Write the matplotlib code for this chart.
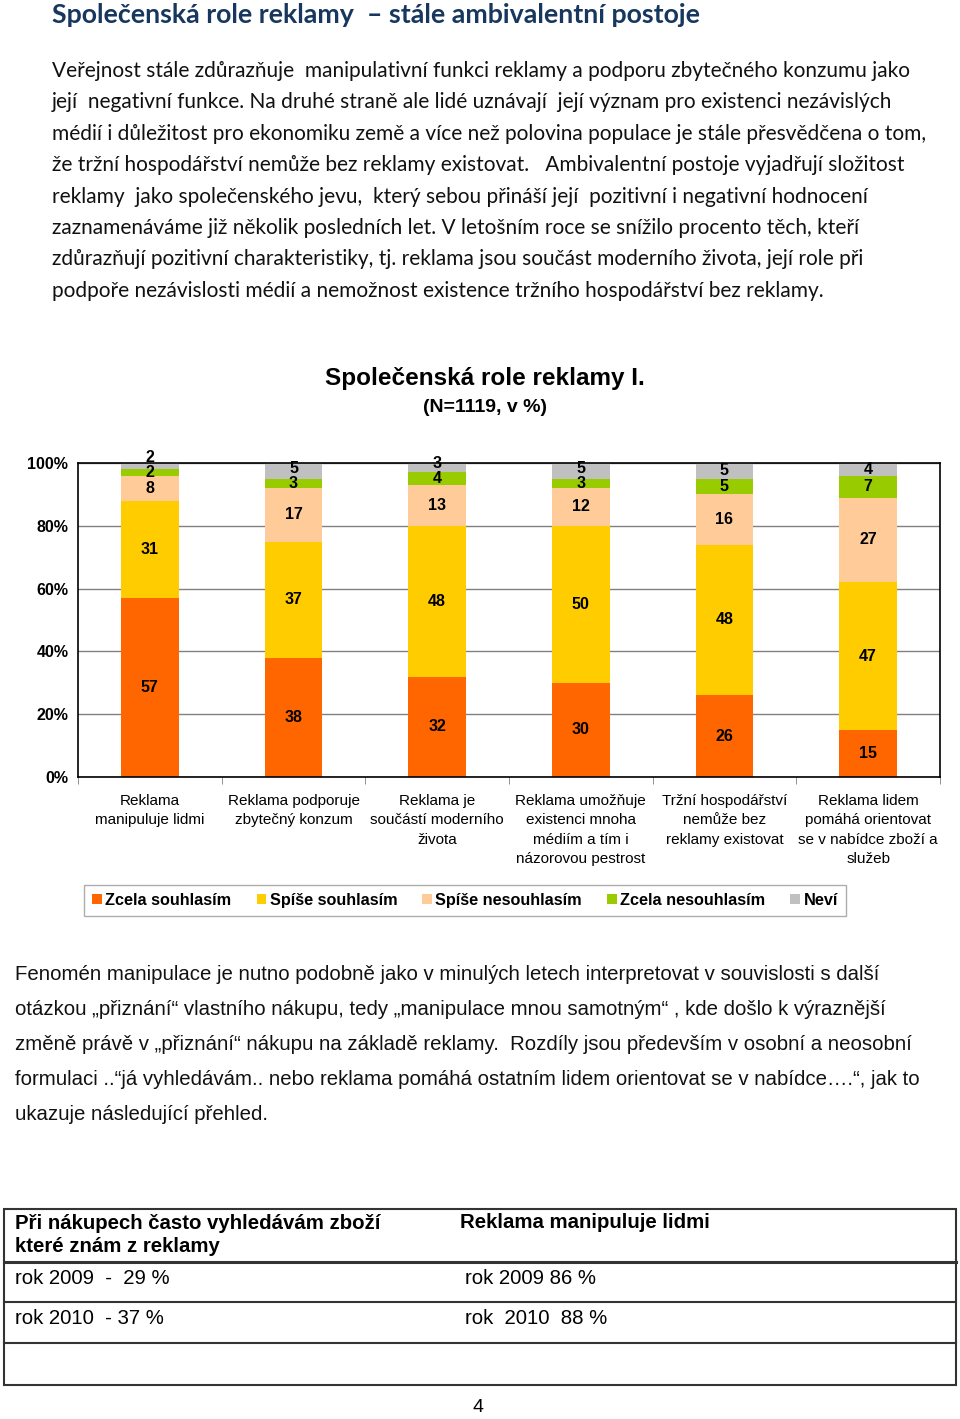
import matplotlib
matplotlib.use("Agg")
import matplotlib.pyplot as plt
import numpy as np
from matplotlib.patches import Rectangle, Patch
from matplotlib.lines import Line2D

# chart data (percent)
categories = [
    "Reklama\nmanipuluje lidmi",
    "Reklama podporuje\nzbytečný konzum",
    "Reklama je\nsoučástí moderního\nživota",
    "Reklama umožňuje\nexistenci mnoha\nmédiím a tím i\nnázorovou pestrost",
    "Tržní hospodářství\nnemůže bez\nreklamy existovat",
    "Reklama lidem\npomáhá orientovat\nse v nabídce zboží a\nslužeb",
]
series_names = ["Zcela souhlasím", "Spíše souhlasím", "Spíše nesouhlasím",
                "Zcela nesouhlasím", "Neví"]
zcela_souhlasim = [57, 38, 32, 30, 26, 15]
spise_souhlasim = [31, 37, 48, 50, 48, 47]
spise_nesouhlasim = [8, 17, 13, 12, 16, 27]
zcela_nesouhlasim = [2, 3, 4, 3, 5, 7]
nevi = [2, 5, 3, 5, 5, 4]
colors = ["#FF6600", "#FFCC00", "#FFCC99", "#99CC00", "#C0C0C0"]

# table data
table_header = ["Při nákupech často vyhledávám zboží\nkteré znám z reklamy",
                "Reklama manipuluje lidmi"]
table_left = ["rok 2009  -  29 %", "rok 2010  - 37 %"]
table_right = ["rok 2009 86 %", "rok  2010  88 %"]

para1 = [
    "Veřejnost stále zdůrazňuje  manipulativní funkci reklamy a podporu zbytečného konzumu jako",
    "její  negativní funkce. Na druhé straně ale lidé uznávají  její význam pro existenci nezávislých",
    "médií i důležitost pro ekonomiku země a více než polovina populace je stále přesvědčena o tom,",
    "že tržní hospodářství nemůže bez reklamy existovat.   Ambivalentní postoje vyjadřují složitost",
    "reklamy  jako společenského jevu,  který sebou přináší její  pozitivní i negativní hodnocení",
    "zaznamenáváme již několik posledních let. V letošním roce se snížilo procento těch, kteří",
    "zdůrazňují pozitivní charakteristiky, tj. reklama jsou součást moderního života, její role při",
    "podpoře nezávislosti médií a nemožnost existence tržního hospodářství bez reklamy.",
]
para2 = [
    "Fenomén manipulace je nutno podobně jako v minulých letech interpretovat v souvislosti s další",
    "otázkou „přiznání“ vlastního nákupu, tedy „manipulace mnou samotným“ , kde došlo k výraznější",
    "změně právě v „přiznání“ nákupu na základě reklamy.  Rozdíly jsou především v osobní a neosobní",
    "formulaci ..“já vyhledávám.. nebo reklama pomáhá ostatním lidem orientovat se v nabídce….“, jak to",
    "ukazuje následující přehled.",
]

W, H = 960, 1419
fig = plt.figure(figsize=(W / 100, H / 100), dpi=100)


def fy(y):
    return 1 - y / H


def fx(x):
    return x / W


body_font = ["Lato", "DejaVu Sans"]
arial = ["Liberation Sans", "DejaVu Sans"]

# heading and first paragraph
fig.text(fx(52), fy(15), "Společenská role reklamy  – stále ambivalentní postoje",
         family=body_font, fontsize=19.3, fontweight="bold", color="#17375E", va="center")
for i, line in enumerate(para1):
    fig.text(fx(52), fy(71 + i * 31.4), line, family=body_font, fontsize=15,
             color="#111111", va="center")

# chart titles
fig.text(fx(485), fy(379), "Společenská role reklamy I.", family=arial, fontsize=17.5,
         fontweight="bold", ha="center", va="center")
fig.text(fx(485), fy(407), "(N=1119, v %)", family=arial, fontsize=14,
         fontweight="bold", ha="center", va="center")

# stacked bar chart
ax = fig.add_axes([fx(78), fy(777), fx(940) - fx(78), fy(463) - fy(777)])
data = [zcela_souhlasim, spise_souhlasim, spise_nesouhlasim, zcela_nesouhlasim, nevi]
x = np.arange(len(categories))
bottom = np.zeros(len(categories))
last_label = np.full(len(categories), -100.0)
min_gap = 4.8  # keep value labels of thin segments from overlapping
for vals, col in zip(data, colors):
    vals = np.array(vals)
    ax.bar(x, vals, 0.4, bottom=bottom, color=col, zorder=2)
    for j, (xi, b, v) in enumerate(zip(x, bottom, vals)):
        ypos = max(b + v / 2, last_label[j] + min_gap)
        last_label[j] = ypos
        ax.text(xi, ypos, str(v), ha="center", va="center", family=arial,
                fontsize=11.5, fontweight="bold", zorder=3)
    bottom += vals

ax.set_xlim(-0.5, len(categories) - 0.5)
ax.set_ylim(0, 100)
ax.set_yticks([0, 20, 40, 60, 80, 100])
ax.set_yticklabels(["0%", "20%", "40%", "60%", "80%", "100%"], family=arial,
                   fontsize=11.5, fontweight="bold")
ax.tick_params(axis="y", length=0, pad=7)
ax.yaxis.grid(True, color="#808080", linewidth=1, zorder=0)
ax.set_xticks(x)
ax.set_xticklabels(categories, family=arial, fontsize=11, linespacing=1.5)
ax.tick_params(axis="x", length=0, pad=12)
ax.set_xticks(np.arange(-0.5, len(categories)), minor=True)
ax.tick_params(axis="x", which="minor", length=5, color="#808080", direction="out")
for s in ax.spines.values():
    s.set_color("black")
    s.set_linewidth(1.2)

# legend
handles = [Patch(facecolor=c, edgecolor="none") for c in colors]
fig.legend(handles, series_names, loc="center", bbox_to_anchor=(fx(465), fy(900.5)),
           ncol=5, frameon=True, fancybox=False, edgecolor="#999999",
           prop={"family": arial, "size": 11.7, "weight": "bold"},
           handlelength=0.6, handleheight=0.6, handletextpad=0.2,
           columnspacing=1.55, borderpad=0.5)

# second paragraph
for i, line in enumerate(para2):
    fig.text(fx(15), fy(974 + i * 35.2), line, family=arial, fontsize=14.7,
             color="#111111", va="center")

# table
line_col = "#333333"
fig.add_artist(Rectangle((fx(4), fy(1385)), fx(956) - fx(4), fy(1209) - fy(1385),
                         transform=fig.transFigure, fill=False, edgecolor=line_col,
                         linewidth=1.5))
for yy, lw in [(1262, 2.2), (1302, 1.5), (1343, 1.5)]:
    fig.add_artist(Line2D([fx(4), fx(956)], [fy(yy), fy(yy)], transform=fig.transFigure,
                          color=line_col, linewidth=lw))
fig.text(fx(15), fy(1235), table_header[0], family=arial, fontsize=14.7,
         fontweight="bold", va="center", linespacing=1.3)
fig.text(fx(460), fy(1223), table_header[1], family=arial, fontsize=14.7,
         fontweight="bold", va="center")
for i, (l, r) in enumerate(zip(table_left, table_right)):
    fig.text(fx(15), fy(1279 + i * 40), l, family=arial, fontsize=14.7, va="center")
    fig.text(fx(465), fy(1279 + i * 40), r, family=arial, fontsize=14.7, va="center")

fig.text(fx(478), fy(1408), "4", family=arial, fontsize=14, ha="center", va="center")

fig.savefig("out.png", dpi=100)
